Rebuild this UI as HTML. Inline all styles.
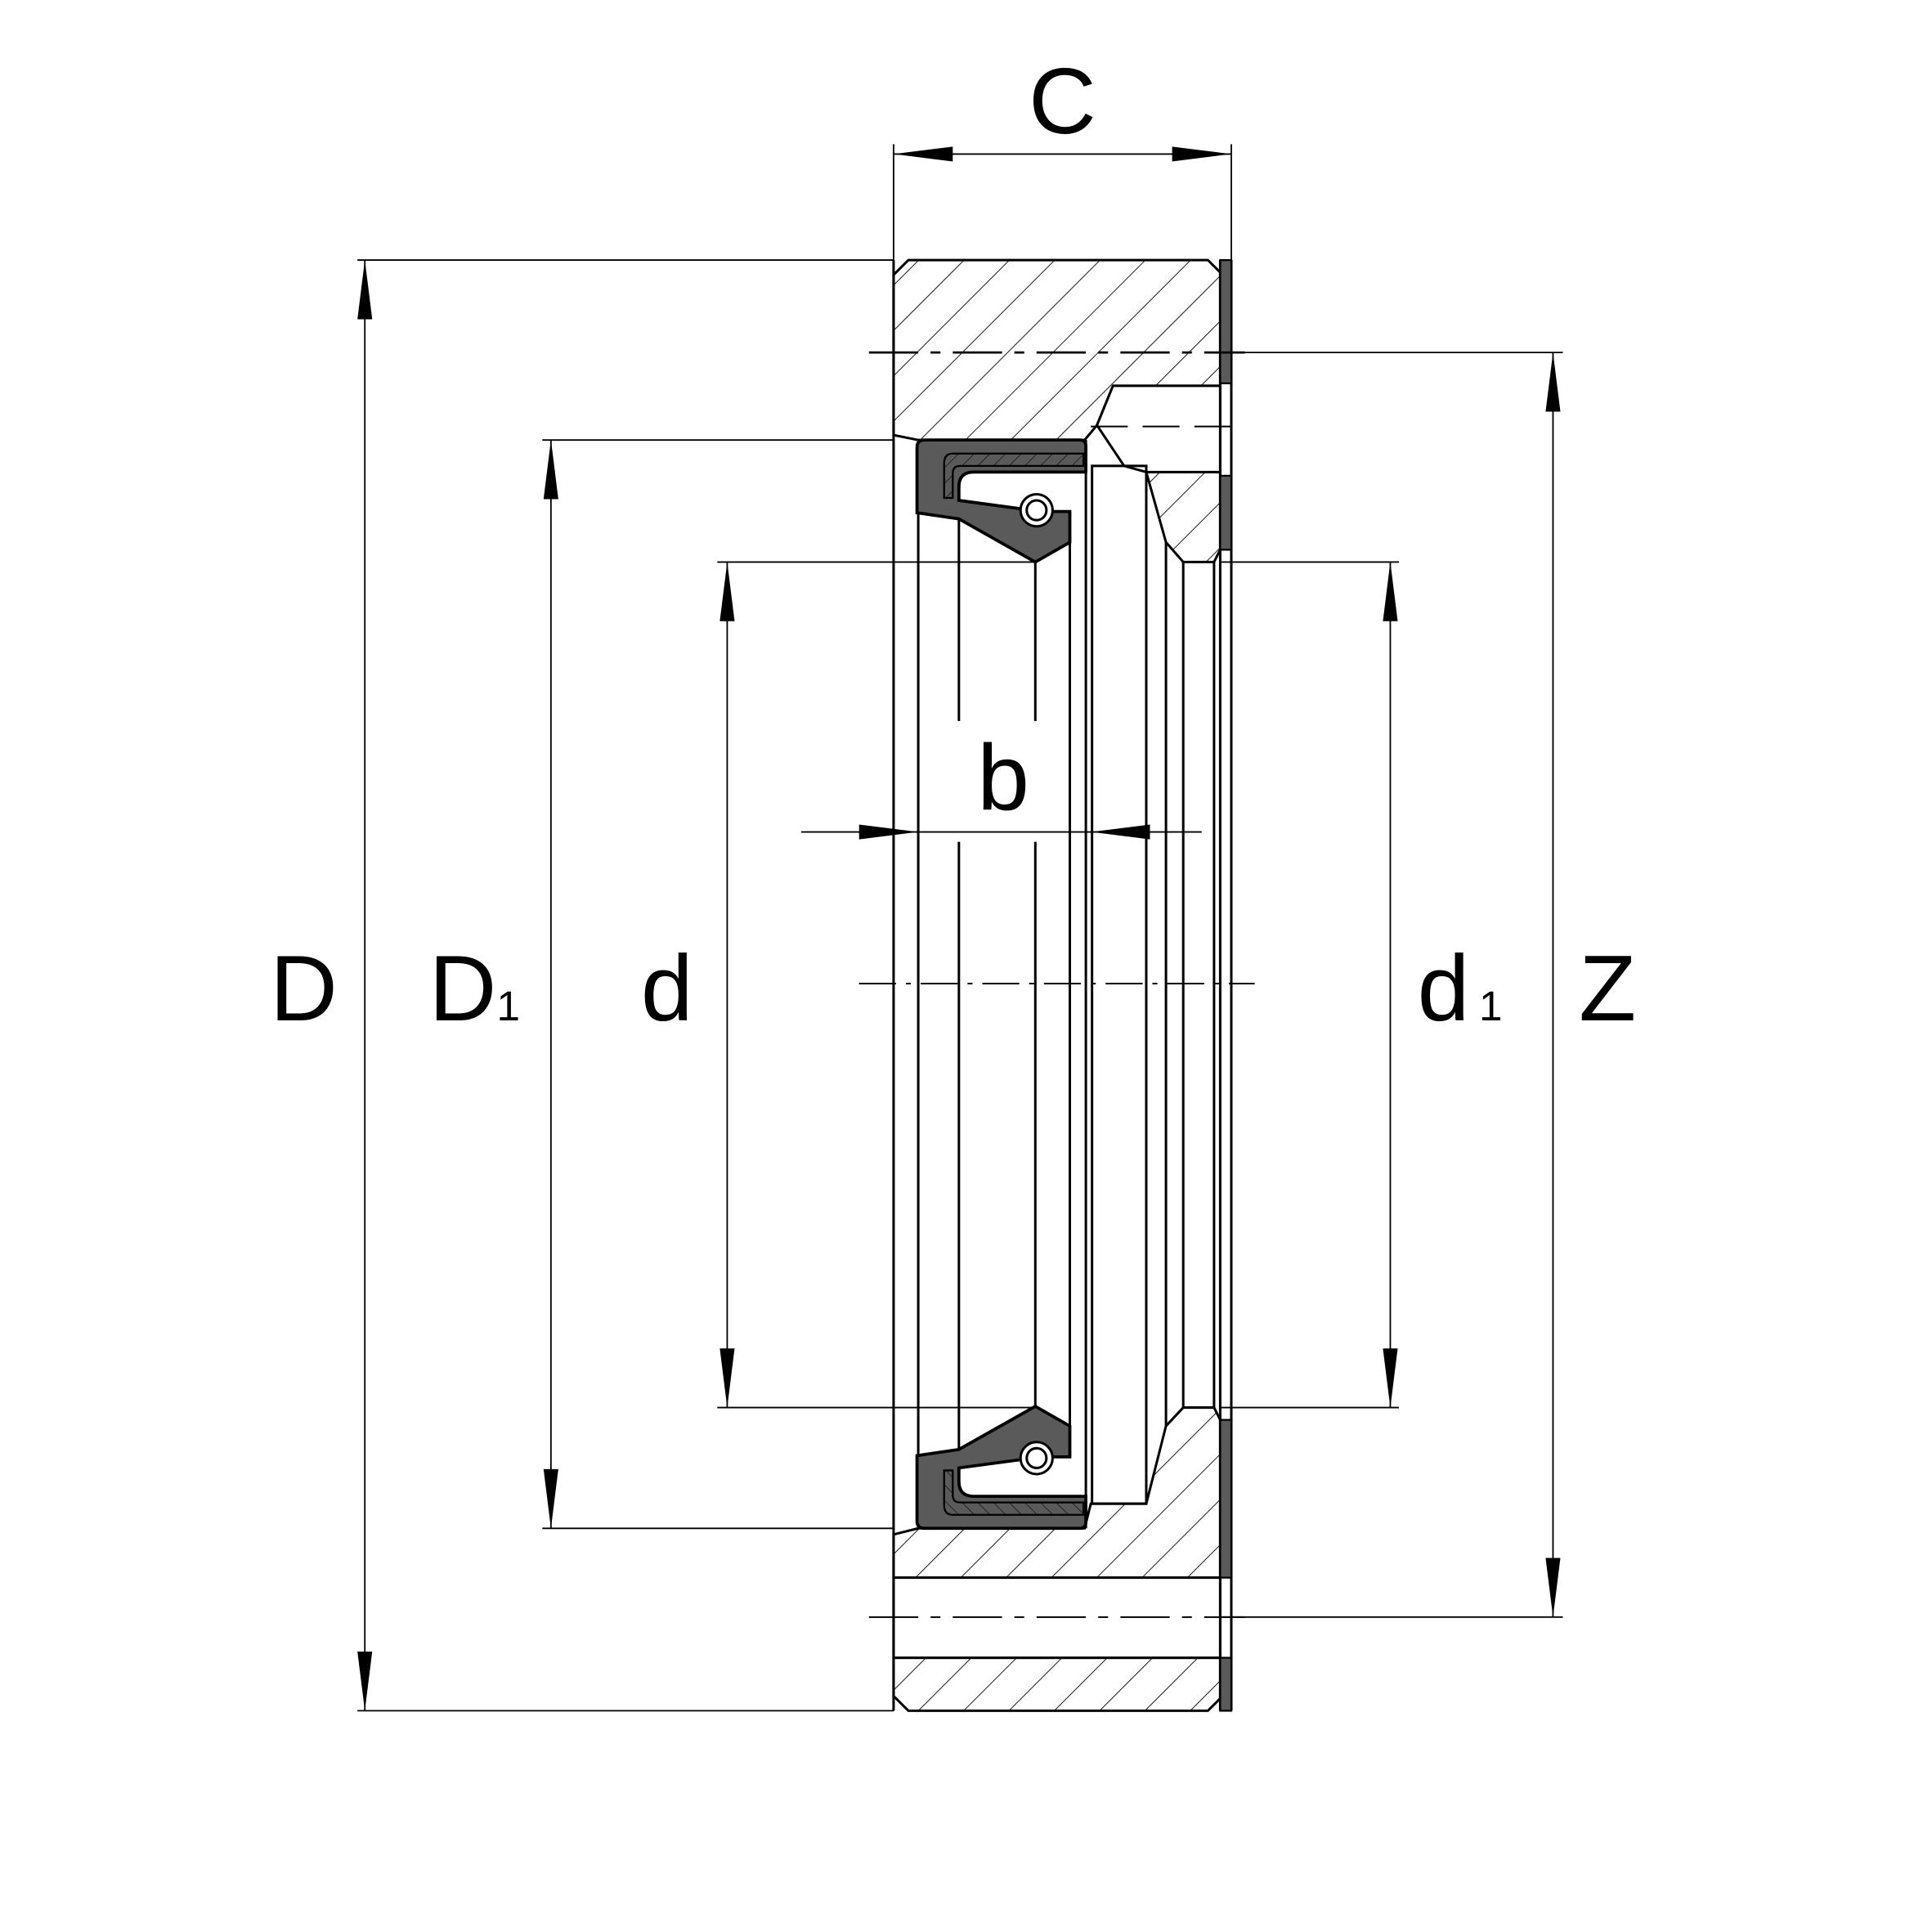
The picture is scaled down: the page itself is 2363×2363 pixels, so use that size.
<!DOCTYPE html>
<html><head><meta charset="utf-8"><style>
html,body{margin:0;padding:0;background:#fff;}
svg{display:block;}
text{font-family:"Liberation Sans",sans-serif;fill:#000;}
</style></head><body>
<svg width="2363" height="2363" viewBox="0 0 1567.5 1567.5" xmlns="http://www.w3.org/2000/svg">
<defs>
<pattern id="h" patternUnits="userSpaceOnUse" width="26" height="26" patternTransform="rotate(45)">
<line x1="0" y1="0" x2="0" y2="26" stroke="#000" stroke-width="1.2"/>
</pattern>
<pattern id="h2" patternUnits="userSpaceOnUse" width="9" height="9" patternTransform="rotate(45)">
<line x1="0" y1="0" x2="0" y2="9" stroke="#000" stroke-width="0.8"/>
</pattern>
</defs>

<g stroke="#000" stroke-width="2" fill="url(#h)">
<polygon points="737,211 980,211 990,221 990,313 903,313 890,345 880,357 745,357 725,353 725,223"/>
<polygon points="930,383 990,383 990,446 985,456 960,456 946,440"/>
<polygon points="725,1245 745,1240 880,1240 885,1220 930,1220 946,1157 960,1142 985,1142 990,1152 990,1280 725,1280"/>
<polygon points="725,1345 990,1345 990,1378 980,1388 737,1388 725,1376"/>
</g>
<g stroke="#000" stroke-width="2" fill="#fff">
<polygon points="903,313 990,313 990,383 930,383 912,378 890,345"/>
<rect x="725" y="1280" width="265" height="65"/>
</g>
<g stroke="#000" stroke-width="2" fill="none">
<line x1="725" y1="211" x2="725" y2="1388"/>
<line x1="745" y1="357" x2="745" y2="1240"/>
<line x1="778" y1="420" x2="778" y2="585"/>
<line x1="840" y1="456" x2="840" y2="585"/>
<line x1="778" y1="683" x2="778" y2="1177"/>
<line x1="840" y1="683" x2="840" y2="1141"/>
<line x1="868" y1="440" x2="868" y2="1157"/>
<line x1="881" y1="357" x2="881" y2="1240"/>
<rect x="886" y="378" width="44" height="842"/>
<line x1="946" y1="440" x2="946" y2="1157"/>
<line x1="960" y1="456" x2="960" y2="1142"/>
<line x1="985" y1="456" x2="985" y2="1142"/>
<line x1="990" y1="211" x2="990" y2="1388"/>
<line x1="999" y1="211" x2="999" y2="1388"/>
</g>
<g fill="#5a5a5a" stroke="#000" stroke-width="1.5">
<rect x="990" y="211" width="9" height="100"/>
<rect x="990" y="386" width="9" height="60"/>
<rect x="990" y="1152" width="9" height="128"/>
<rect x="990" y="1345" width="9" height="43"/>
</g>

<g id="seal">
<path d="M750,357 L876,357 Q881,357 881,362 L881,383 L790,383 Q778,383 778,395 L778,406 L830,413 L852,415 L868,415 L868,440 L840,456 L778,421 L744,416 L744,363 Q744,357 750,357 Z" fill="#5a5a5a" stroke="#000" stroke-width="2.5"/>
<path d="M773,368 L879,368 L879,378 L779,378 Q773,378 773,384 L773,404 L766,404 L766,376 Q766,368 773,368 Z" fill="url(#h2)" stroke="#000" stroke-width="1.5"/>
<circle cx="841" cy="414" r="13" fill="#fff" stroke="#000" stroke-width="2"/>
<circle cx="841" cy="414" r="8" fill="#fff" stroke="#000" stroke-width="2"/>
</g>
<use href="#seal" transform="translate(0,1597) scale(1,-1)"/>

<g stroke="#000" stroke-width="1.3" fill="none">
<line x1="697" y1="798" x2="1018" y2="798" stroke-dasharray="30,8,4,8"/>
<line x1="705" y1="286" x2="1010" y2="286" stroke-dasharray="40,10,8,10" stroke-width="1.8"/>
<line x1="705" y1="1312" x2="1010" y2="1312" stroke-dasharray="40,10,8,10"/>
<line x1="885" y1="346" x2="1010" y2="346" stroke-dasharray="30,12"/>
</g>

<g stroke="#000" stroke-width="1.2" fill="none">
<line x1="725" y1="117" x2="725" y2="211"/>
<line x1="999" y1="117" x2="999" y2="211"/>
<line x1="725" y1="125" x2="999" y2="125"/>
<line x1="290" y1="211" x2="725" y2="211"/>
<line x1="290" y1="1388" x2="725" y2="1388"/>
<line x1="296" y1="211" x2="296" y2="1388"/>
<line x1="440" y1="357" x2="725" y2="357"/>
<line x1="440" y1="1240" x2="725" y2="1240"/>
<line x1="447" y1="357" x2="447" y2="1240"/>
<line x1="582" y1="456" x2="840" y2="456"/>
<line x1="582" y1="1142" x2="840" y2="1142"/>
<line x1="590" y1="456" x2="590" y2="1142"/>
<line x1="990" y1="456" x2="1135" y2="456"/>
<line x1="990" y1="1142" x2="1135" y2="1142"/>
<line x1="1128" y1="456" x2="1128" y2="1142"/>
<line x1="990" y1="286" x2="1268" y2="286"/>
<line x1="990" y1="1312" x2="1268" y2="1312"/>
<line x1="1260" y1="286" x2="1260" y2="1312"/>
<line x1="650" y1="675" x2="975" y2="675"/>
</g>
<!-- arrowheads -->
<g fill="#000">
<polygon points="725,125 773,119 773,131"/>
<polygon points="999,125 951,119 951,131"/>
<polygon points="296,211 290,259 302,259"/>
<polygon points="296,1388 290,1340 302,1340"/>
<polygon points="447,357 441,405 453,405"/>
<polygon points="447,1240 441,1192 453,1192"/>
<polygon points="590,456 584,504 596,504"/>
<polygon points="590,1142 584,1094 596,1094"/>
<polygon points="1128,456 1122,504 1134,504"/>
<polygon points="1128,1142 1122,1094 1134,1094"/>
<polygon points="1260,286 1254,334 1266,334"/>
<polygon points="1260,1312 1254,1264 1266,1264"/>
<polygon points="745,675 697,669 697,681"/>
<polygon points="885,675 933,669 933,681"/>
</g>

<text x="862" y="108" font-size="76" text-anchor="middle">C</text>
<text x="814" y="657" font-size="76" text-anchor="middle">b</text>
<text x="219" y="828" font-size="76">D</text>
<text x="348" y="828" font-size="76">D</text>
<text x="403" y="828" font-size="34">1</text>
<text x="520" y="828" font-size="76">d</text>
<text x="1150" y="828" font-size="76">d</text>
<text x="1200" y="828" font-size="34">1</text>
<text x="1281" y="828" font-size="76">Z</text>
</svg>
</body></html>
